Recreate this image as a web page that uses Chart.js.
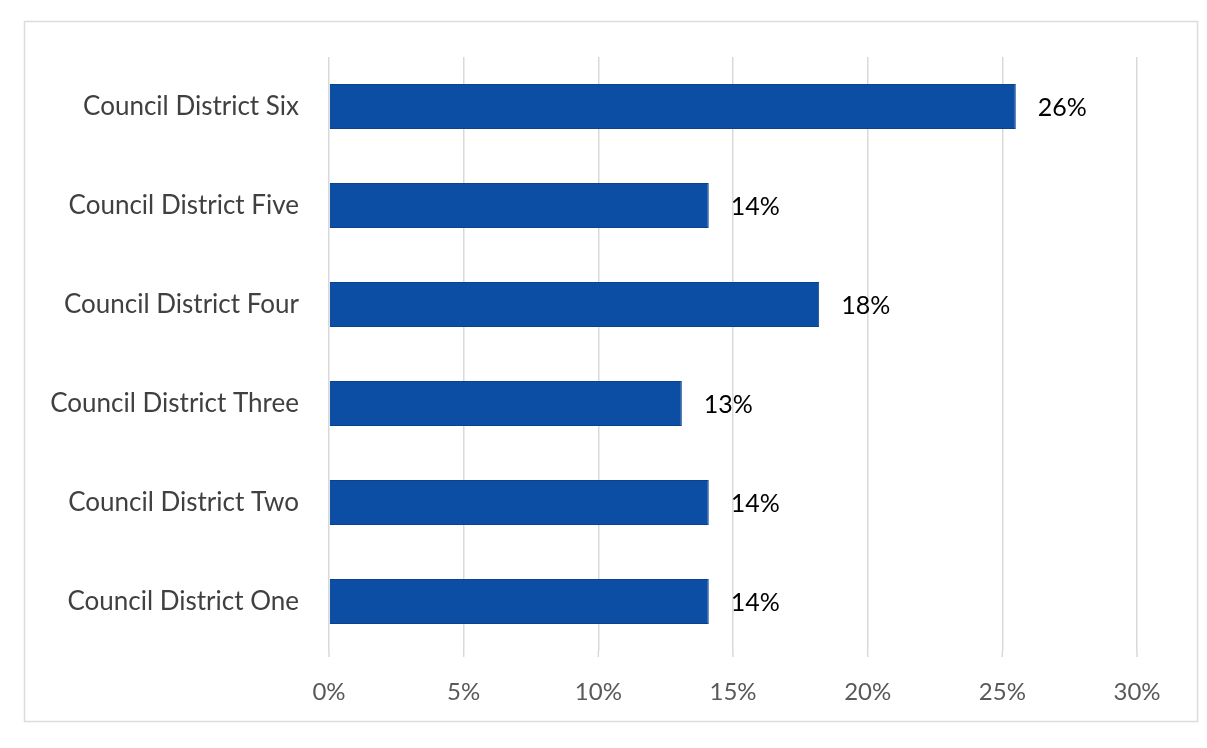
<!DOCTYPE html>
<html>
<head>
<meta charset="utf-8">
<script src="https://cdn.jsdelivr.net/npm/chart.js@4/dist/chart.umd.min.js"></script>
<style>
  html, body { margin: 0; padding: 0; background: #ffffff; }
  #wrap { width: 1207px; height: 748px; }
</style>
</head>
<body>
<div id="wrap"><canvas id="c" width="1207" height="748"></canvas></div>
<script>
// Share of responses by council district (percent)
const districts = [
  'Council District Six',
  'Council District Five',
  'Council District Four',
  'Council District Three',
  'Council District Two',
  'Council District One'
];
const shares = [25.5, 14.1, 18.2, 13.1, 14.1, 14.1];
const axisTicks = [0, 5, 10, 15, 20, 25, 30];

const FONT = 'Lato, "Open Sans", "DejaVu Sans", sans-serif';
const PLOT_BOTTOM = 651;
const GRID_BOTTOM = 657;

// Light frame around the whole chart
const framePlugin = {
  id: 'frame',
  beforeDraw(chart) {
    const ctx = chart.ctx;
    ctx.save();
    ctx.fillStyle = '#ffffff';
    ctx.fillRect(0, 0, chart.width, chart.height);
    ctx.strokeStyle = '#dcdcdc';
    ctx.lineWidth = 1.5;
    ctx.strokeRect(24.5, 21.5, 1173, 700);
    ctx.restore();
  }
};

// Vertical gridlines run a little below the last category band
const gridExtend = {
  id: 'gridExtend',
  beforeDatasetsDraw(chart) {
    const ctx = chart.ctx;
    const x = chart.scales.x;
    ctx.save();
    ctx.strokeStyle = '#d9d9d9';
    ctx.lineWidth = 1.5;
    axisTicks.forEach(v => {
      const px = x.getPixelForValue(v);
      ctx.beginPath();
      ctx.moveTo(px, chart.chartArea.bottom);
      ctx.lineTo(px, GRID_BOTTOM);
      ctx.stroke();
    });
    ctx.restore();
  }
};

// Percentage labels at the end of each bar
const valueLabels = {
  id: 'valueLabels',
  afterDatasetsDraw(chart) {
    const ctx = chart.ctx;
    const meta = chart.getDatasetMeta(0);
    ctx.save();
    ctx.font = '25px ' + FONT;
    ctx.fillStyle = '#000000';
    ctx.textAlign = 'left';
    ctx.textBaseline = 'middle';
    meta.data.forEach((bar, i) => {
      const v = chart.data.datasets[0].data[i];
      ctx.fillText(Math.round(v) + '%', bar.x + 22, bar.y + 1);
    });
    ctx.restore();
  }
};

new Chart(document.getElementById('c'), {
  type: 'bar',
  data: {
    labels: districts,
    datasets: [{
      data: shares,
      backgroundColor: '#0B4EA4',
      borderColor: '#0A428F',
      borderWidth: 1,
      barPercentage: 0.455,
      categoryPercentage: 1.0
    }]
  },
  options: {
    indexAxis: 'y',
    responsive: false,
    devicePixelRatio: 1,
    animation: false,
    layout: { padding: { top: 57, right: 70, left: 0, bottom: 0 } },
    plugins: {
      legend: { display: false },
      tooltip: { enabled: false }
    },
    scales: {
      x: {
        min: 0,
        max: 30,
        afterBuildTicks(scale) {
          scale.ticks = axisTicks.map(v => ({ value: v }));
        },
        afterFit(scale) { scale.height = 748 - PLOT_BOTTOM; },
        grid: { color: '#d9d9d9', lineWidth: 1.5, drawTicks: false },
        border: { display: false },
        ticks: {
          padding: 27,
          color: '#595959',
          font: { family: FONT, size: 24 },
          callback: v => v + '%'
        }
      },
      y: {
        afterFit(scale) { scale.width = 329; },
        grid: { display: false },
        border: { display: false },
        ticks: {
          padding: 22,
          color: '#404040',
          font: { family: FONT, size: 26 }
        }
      }
    }
  },
  plugins: [framePlugin, gridExtend, valueLabels]
});
</script>
</body>
</html>
